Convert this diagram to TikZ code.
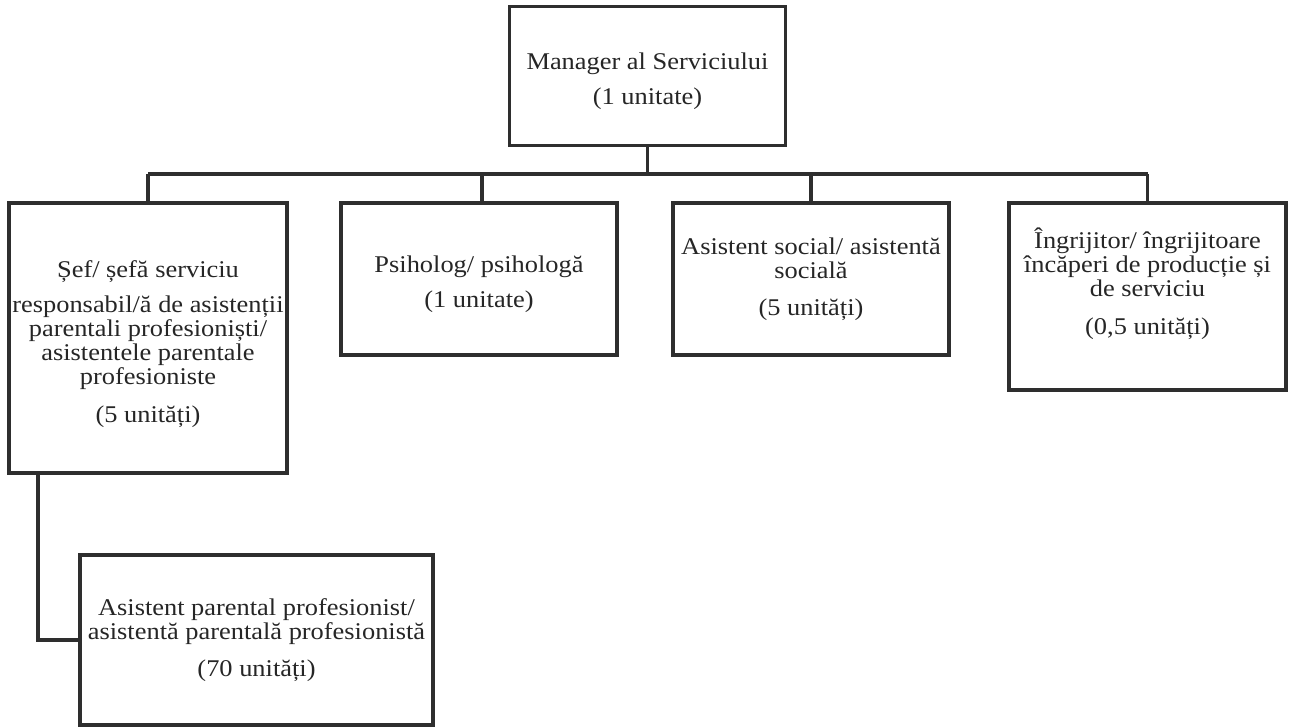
\documentclass[tikz,border=0pt]{standalone}
\usepackage{fontspec}
\setmainfont{Liberation Serif}[FakeStretch=1.1]
\begin{document}
\begin{tikzpicture}[x=1pt,y=-1pt,
  box/.style={draw=black!82, line width=3.8pt, fill=white, inner sep=0pt, align=center,
    font=\fontsize{24}{24}\selectfont, text=black!85},
  link/.style={draw=black!82, line width=3.8pt}]
\useasboundingbox[fill=white] (0,0) rectangle (1294,728);
\node[box, minimum width=276pt, minimum height=139pt] (mgr) at (647.5,76)
  {\rule{0pt}{28pt}Manager al Serviciului\\[11pt](1 unitate)};
\node[box, minimum width=278pt, minimum height=270pt] (sef) at (148,338)
  {\rule{0pt}{30pt}Șef/ șefă serviciu\\[11pt]responsabil/ă de asistenții\\parentali profesioniști/\\asistentele parentale\\profesioniste\\[14pt](5 unități)};
\node[box, minimum width=276pt, minimum height=152pt] (psi) at (479,279)
  {\rule{0pt}{28pt}Psiholog/ psihologă\\[11pt](1 unitate)};
\node[box, minimum width=276pt, minimum height=152pt] (as) at (811,279)
  {Asistent social/ asistentă\\socială\\[13pt](5 unități)};
\node[box, minimum width=277pt, minimum height=187pt] (ing) at (1147.5,296.5)
  {Îngrijitor/ îngrijitoare\\încăperi de producție și\\de serviciu\\[14pt](0,5 unități)\\[6pt]};
\node[box, minimum width=353pt, minimum height=170pt] (ap) at (256.5,640)
  {Asistent parental profesionist/\\asistentă parentală profesionistă\\[13pt](70 unități)};
\coordinate (bar) at (0,174);
\draw[link] (mgr.south) -- (mgr.south |- bar);
\draw[link] (sef.north |- bar) -- (ing.north |- bar);
\draw[link] (sef.north |- bar) -- (sef.north);
\draw[link] ([xshift=3pt]psi.north |- bar) -- ([xshift=3pt]psi.north);
\draw[link] (as.north |- bar) -- (as.north);
\draw[link] (ing.north |- bar) -- (ing.north);
\draw[link] ([xshift=31pt]sef.south west) |- (ap.west);
\end{tikzpicture}
\end{document}
